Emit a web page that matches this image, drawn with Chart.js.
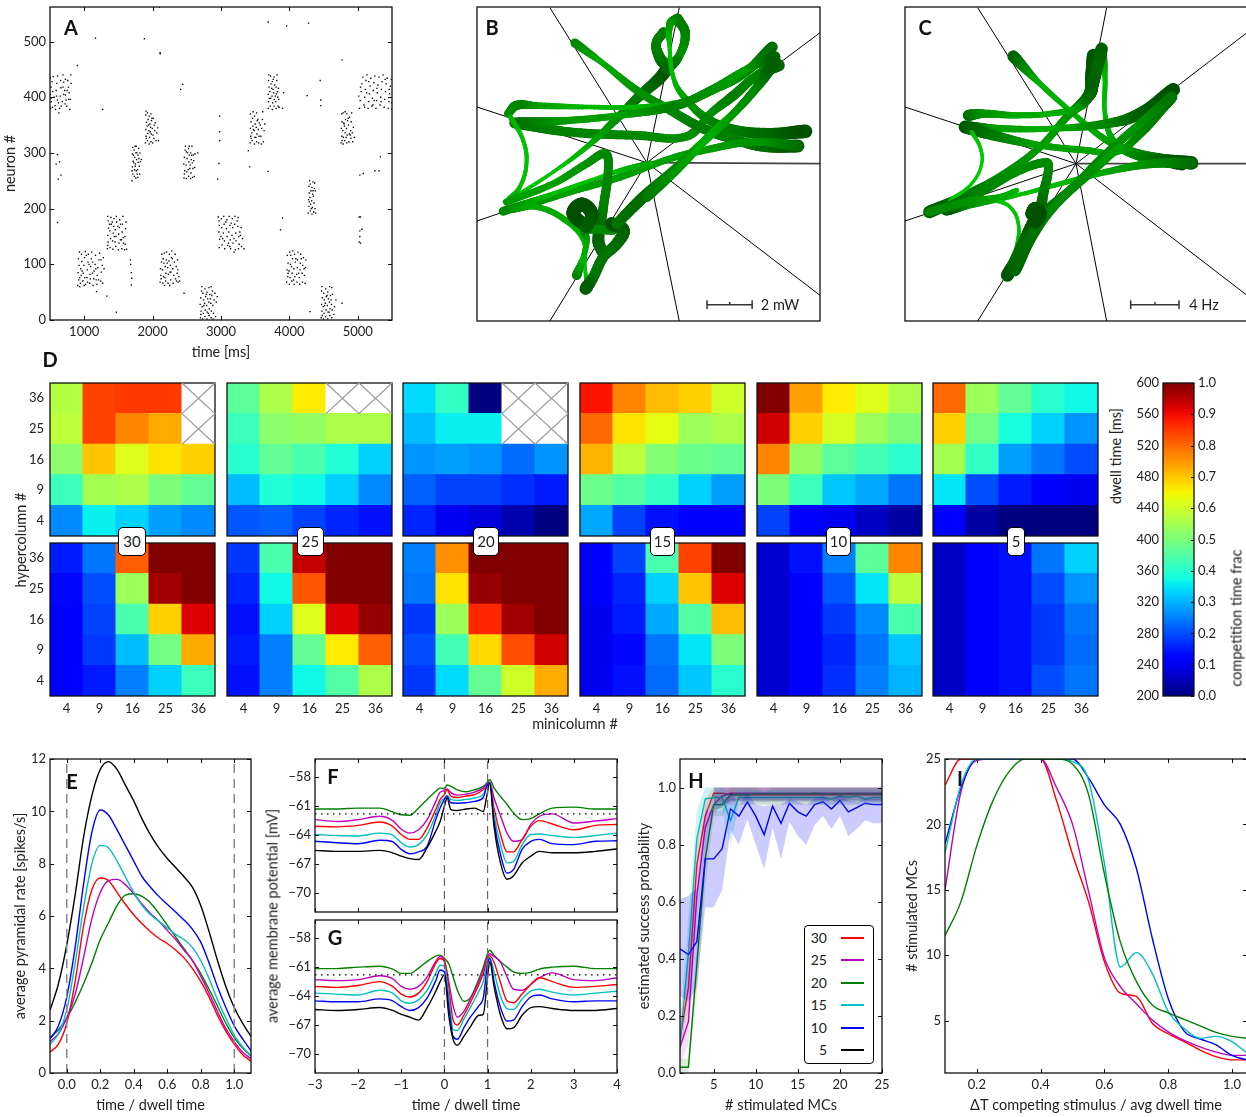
<!DOCTYPE html>
<html>
<head>
<meta charset="utf-8">
<title>Figure</title>
<script src="https://cdn.jsdelivr.net/npm/chart.js@4"></script>
<style>
html, body { margin: 0; padding: 0; background: #fff; width: 1246px; height: 1117px; overflow: hidden; }
#page { position: relative; width: 1246px; height: 1117px; overflow: hidden; font-family: Lato, sans-serif; color: #222; }
canvas { position: absolute; }
.txt { position: absolute; white-space: nowrap; transform: translate(-50%, -50%); font-size: 14.5px; }
.v { transform: translate(-50%, -50%) rotate(-90deg); }
.letter { font: bold 20px Lato, sans-serif; color: #111; }
.tag { position: absolute; background: #fff; border: 1.2px solid #000; border-radius: 5px; box-sizing: border-box; text-align: center; font: 15px/27px Lato, sans-serif; height: 29px; top: 527px; }
.legend { position: absolute; left: 804px; top: 925px; width: 70px; height: 139px; border: 1.2px solid #000; border-radius: 4px; box-sizing: border-box; background: #fff; z-index: 5; }
</style>
</head>
<body>
<div id="page"></div>
<script>
// panel A, spikes as [time ms, neuron]
const burst1 = [[510,380],[520,392],[505,405],[515,418],[530,428],[545,437],[560,400],[575,385],[590,412],[600,425],[610,438],[625,390],[640,380],[650,402],[660,417],[680,392],[690,440],[700,427],[715,412],[725,404],[735,395],[745,384],[760,430],[770,418],[780,408],[790,378],[805,440],[810,425],[580,378],[630,372],[505,435],[700,405],[540,410],[665,384],[750,412],[795,396],[515,398],[610,395],[690,418],[725,432]];
const burst2 = [[905,62],[920,72],[910,85],[925,98],[915,110],[930,122],[945,66],[955,80],[950,92],[965,105],[960,118],[980,70],[985,84],[995,98],[1005,112],[1015,123],[1020,64],[1040,76],[1045,90],[1055,104],[1060,118],[1080,66],[1085,82],[1095,96],[1105,110],[1110,122],[1130,62],[1140,74],[1145,88],[1160,100],[1165,116],[1185,64],[1190,80],[1200,94],[1215,108],[1225,120],[1240,70],[1250,86],[1265,98],[1280,112],[1270,66],[1290,92],[935,60],[1000,62],[1070,100],[1120,84],[1175,72]];
const burst3 = [[1340,128],[1350,140],[1345,152],[1355,165],[1350,178],[1345,186],[1380,130],[1385,146],[1375,160],[1395,172],[1390,184],[1420,127],[1415,142],[1425,156],[1430,168],[1435,182],[1460,132],[1465,150],[1455,162],[1475,176],[1470,186],[1500,126],[1510,138],[1505,154],[1515,166],[1520,180],[1550,128],[1545,144],[1555,158],[1560,172],[1565,186],[1590,126],[1600,136],[1595,150],[1605,164],[1620,127],[1575,138],[1440,150],[1530,144]];
const burst4 = [[1700,250],[1710,262],[1705,275],[1715,285],[1705,298],[1710,310],[1730,258],[1735,270],[1725,282],[1740,292],[1730,305],[1755,255],[1760,268],[1750,280],[1765,288],[1755,300],[1760,312],[1785,256],[1780,270],[1790,283],[1785,296],[1795,308],[1810,262],[1805,276],[1820,284],[1815,300],[1835,288],[1745,312],[1775,262]];
const burst5 = [[1895,318],[1905,330],[1900,342],[1910,355],[1900,368],[1905,375],[1925,322],[1930,335],[1920,348],[1935,360],[1925,372],[1950,316],[1955,328],[1945,340],[1960,352],[1950,366],[1975,320],[1980,334],[1970,346],[1985,358],[1975,370],[2000,318],[2005,332],[1995,344],[2010,362],[2020,326],[2030,340],[2040,354],[2050,322],[2060,336],[2075,345],[2085,322]];
const burst6 = [[2110,68],[2120,80],[2115,92],[2130,104],[2135,118],[2150,66],[2160,78],[2145,90],[2165,102],[2170,120],[2190,70],[2195,84],[2185,96],[2200,108],[2205,122],[2225,66],[2230,82],[2220,94],[2240,106],[2245,118],[2265,72],[2270,86],[2260,98],[2275,112],[2280,124],[2300,66],[2310,80],[2295,92],[2320,104],[2330,118],[2350,70],[2360,84],[2345,96],[2375,68],[2385,78],[2370,90],[2395,70],[2175,62],[2250,62]];
const burst7 = [[2460,255],[2470,268],[2455,280],[2465,292],[2475,305],[2480,312],[2495,254],[2500,266],[2490,278],[2505,290],[2495,302],[2525,258],[2520,270],[2530,284],[2535,296],[2525,308],[2555,254],[2560,264],[2550,278],[2565,288],[2555,300],[2575,312],[2585,256],[2590,272],[2580,282],[2595,296],[2610,258],[2615,274],[2620,298],[2660,300],[2535,312]];
const burst8 = [[2700,4],[2710,16],[2695,28],[2705,40],[2715,52],[2720,60],[2730,2],[2740,12],[2725,24],[2745,36],[2735,48],[2765,6],[2770,18],[2760,30],[2775,42],[2765,56],[2795,2],[2800,14],[2790,26],[2805,38],[2795,50],[2825,8],[2830,20],[2820,32],[2835,46],[2825,58],[2855,4],[2860,16],[2850,30],[2865,44],[2855,60],[2885,2],[2890,12],[2880,26],[2900,36],[2920,6],[2930,32],[2945,42],[2910,48]];
const burst9 = [[2960,185],[2975,170],[2970,158],[2980,145],[2975,130],[3005,182],[3010,166],[3000,150],[3015,135],[3040,186],[3045,172],[3035,156],[3050,142],[3055,128],[3085,180],[3080,164],[3090,150],[3095,134],[3120,186],[3130,170],[3115,158],[3135,144],[3140,128],[3165,182],[3170,166],[3160,152],[3175,138],[3205,186],[3200,172],[3215,156],[3220,142],[3210,126],[3250,184],[3245,168],[3260,150],[3265,136],[3255,128],[3295,166],[3285,152],[3300,132],[3335,128],[3190,122],[3130,132]];
const burst10 = [[3425,318],[3435,330],[3430,344],[3440,356],[3430,370],[3455,322],[3450,336],[3465,348],[3460,362],[3470,374],[3490,316],[3495,328],[3485,340],[3500,352],[3490,366],[3520,320],[3525,334],[3515,346],[3530,358],[3520,372],[3550,318],[3555,330],[3545,342],[3560,354],[3590,316],[3585,330],[3595,344],[3605,360],[3620,320],[3630,340],[3640,352],[3610,374]];
const burst11 = [[3690,380],[3695,392],[3690,405],[3700,418],[3695,430],[3700,440],[3720,384],[3725,398],[3715,410],[3730,424],[3725,438],[3750,378],[3755,390],[3745,402],[3760,414],[3750,428],[3775,384],[3780,396],[3770,408],[3785,422],[3775,436],[3805,380],[3800,392],[3810,406],[3805,418],[3815,430],[3820,440],[3835,384],[3830,400],[3840,416],[3850,382],[3845,396],[3900,380],[3915,408]];
const burst12 = [[3960,68],[3975,78],[3965,90],[3980,102],[3970,116],[4000,64],[4010,76],[3995,88],[4015,100],[4005,122],[4035,70],[4040,84],[4030,96],[4045,110],[4050,124],[4070,64],[4080,78],[4065,92],[4085,104],[4075,118],[4110,68],[4105,82],[4115,94],[4120,108],[4125,122],[4150,64],[4145,76],[4155,90],[4160,102],[4165,118],[4190,68],[4185,84],[4195,98],[4205,112],[4230,66],[4220,80],[4235,94],[4240,108]];
const burst13 = [[4275,192],[4285,204],[4280,216],[4290,228],[4285,240],[4295,250],[4305,196],[4310,208],[4300,220],[4315,232],[4305,244],[4330,190],[4335,202],[4325,214],[4340,226],[4330,238],[4345,248],[4355,194],[4360,210],[4350,222],[4365,236],[4375,200],[4370,246],[4385,192]];
const burst14 = [[4465,4],[4475,16],[4470,28],[4480,40],[4470,52],[4475,60],[4500,2],[4505,12],[4495,24],[4510,36],[4500,48],[4530,6],[4535,18],[4525,30],[4540,42],[4530,56],[4560,2],[4565,14],[4555,26],[4570,38],[4560,50],[4590,8],[4595,20],[4585,32],[4600,44],[4590,60],[4620,4],[4625,18],[4615,28],[4630,46],[4650,10],[4660,24],[4680,36],[4620,58]];
const burst15 = [[4755,318],[4765,330],[4760,344],[4770,356],[4765,370],[4785,316],[4790,328],[4780,340],[4795,354],[4785,372],[4810,322],[4815,336],[4805,348],[4820,360],[4815,374],[4840,318],[4845,332],[4835,344],[4850,358],[4840,370],[4870,320],[4875,334],[4865,350],[4880,364],[4900,326],[4895,340],[4905,356],[4925,320],[4920,336],[4935,346],[4950,328],[4910,372]];
const burst16 = [[5025,380],[5035,394],[5050,410],[5060,424],[5075,436],[5090,386],[5100,400],[5110,414],[5120,430],[5135,440],[5150,380],[5160,392],[5170,406],[5180,420],[5190,434],[5205,384],[5215,398],[5225,412],[5235,426],[5250,438],[5265,380],[5275,394],[5285,408],[5295,422],[5310,436],[5325,386],[5335,400],[5345,414],[5355,428],[5370,440],[5385,382],[5395,396],[5405,410],[5415,424],[5430,434],[5445,380],[5455,392],[5465,406],[5475,420],[5490,432],[5495,390],[5500,378],[5015,402],[5130,408],[5240,394]];
const strays = [[610,297],[640,284],[590,280],[660,260],[620,253],[610,175],[900,457],[1165,506],[1880,505],[2110,478],[2110,480],[1270,378],[2440,423],[2410,414],[3690,535],[3960,528],[4280,533],[2980,366],[2980,338],[2980,322],[2970,281],[2950,253],[3400,304],[3420,275],[3690,267],[4260,403],[4450,430],[4460,395],[4460,385],[4770,467],[5030,260],[5080,263],[5250,268],[5310,268],[5330,293],[3900,183],[3870,162],[4380,232],[1180,51],[1330,43],[1470,14],[2460,48],[4300,15],[4770,30],[1675,108],[1680,100],[1690,85],[1695,75],[1690,63],[5020,185],[5040,185],[5030,160],[5060,163],[5030,150],[5020,140],[5040,138],[2100,562]];
const denser = [[935,76],[970,88],[1010,76],[1050,68],[1090,74],[1125,104],[1170,92],[1210,72],[1245,108],[1030,116],[1345,134],[1370,172],[1410,176],[1450,140],[1490,168],[1530,172],[1570,148],[1610,176],[1700,268],[1720,296],[1745,276],[1770,300],[1800,290],[1910,326],[1940,350],[1965,338],[1990,362],[2025,350],[2125,74],[2155,110],[2180,76],[2215,102],[2255,86],[2290,110],[2335,74],[2365,108],[2465,262],[2510,300],[2545,272],[2570,296],[2600,286],[2705,10],[2750,26],[2785,46],[2815,12],[2845,38],[2875,52],[2970,178],[3025,146],[3070,176],[3110,138],[3150,174],[3190,146],[3235,178],[3275,158],[3315,146],[3440,326],[3475,342],[3510,328],[3540,360],[3575,350],[3705,398],[3740,416],[3765,432],[3795,402],[3825,410],[3980,84],[4020,116],[4060,72],[4095,110],[4135,84],[4175,110],[4215,92],[4290,212],[4320,200],[4345,232],[4480,8],[4515,26],[4550,44],[4580,14],[4610,36],[4770,322],[4800,352],[4830,328],[4860,362],[4890,332],[5040,418],[5100,382],[5160,428],[5220,386],[5280,416],[5340,392],[5400,432],[5460,414],[535,382],[595,402],[655,430],[720,388],[775,396]];
const spikes = [burst1,burst2,burst3,burst4,burst5,burst6,burst7,burst8,burst9,burst10,burst11,burst12,burst13,burst14,burst15,burst16,strays,denser];
const timeTicks = [1000,2000,3000,4000,5000];
const neuronTicks = [0,100,200,300,400,500];

// panels B and C, rays and trajectories as [x, y, weight], read in picture units
const raysB = [[240,22],[627,22],[1048,97],[1048,885],[627,962],[240,962],[22,662],[22,320]];
const rayRightB = [1048,490];
const hubB = [530,487];
const raysC = [[233,22],[620,22],[1041,97],[1041,885],[620,962],[233,962],[15,662],[15,320]];
const rayRightC = [1041,490];
const hubC = [528,490];
const barB = [710,845,778,913];
const barC = [692,837,765,913];

const trajB = [
 [[140,370,.7],[300,395,.6],[500,405,.55],[650,408,.5],[720,340,.45],[790,285,.65],[860,225,.55],[925,195,.85]],
 [[110,605,.1],[250,515,.05],[350,440,.2],[430,365,.45],[500,295,.65],[590,205,.95],[570,175,.75],[558,130,.6],[580,95,.65]],
 [[622,55,.7],[645,100,.6],[625,170,.5],[590,205,.8]],
 [[622,55,.7],[600,70,.45],[598,140,.1],[612,240,.15],[650,300,.35],[710,355,.55],[790,388,.65],[900,400,.8],[1005,393,1]],
 [[315,128,.6],[400,190,.25],[500,270,.45],[600,330,.55],[700,385,.65],[800,420,.6],[880,438,.75],[982,437,.95]],
 [[905,140,.8],[820,220,.55],[740,265,.4],[640,305,.4],[500,320,.2],[350,320,.15],[200,316,.35],[140,315,.6],[115,340,.5]],
 [[135,368,.8],[300,360,.4],[450,345,.35],[620,315,.6],[720,270,.5],[830,205,.35],[912,170,.85]],
 [[122,350,.2],[160,420,.1],[170,490,.1],[150,560,.1],[115,600,.25]],
 [[982,437,.8],[850,425,.45],[700,450,.4],[600,475,.35],[450,530,.4],[300,575,.35],[130,625,.55]],
 [[100,633,.6],[250,580,.15],[390,530,.05],[470,505,.2],[540,490,.3]],
 [[110,605,.4],[250,550,.35],[350,490,.45],[405,460,.55],[415,500,.55],[400,620,.6],[385,720,.85],[400,760,.8]],
 [[130,625,.45],[200,620,.25],[280,655,.3],[340,720,.15],[345,800,.05],[350,850,.1]],
 [[320,825,.65],[340,770,.2],[350,720,.3],[345,690,.55],[430,690,.55]],
 [[350,680,.9],[310,640,1],[335,612,1],[365,640,1],[350,680,.9]],
 [[425,670,1],[460,690,.9],[440,730,.8],[400,770,.7],[370,830,.7],[347,865,.9]],
 [[440,670,.7],[520,590,.8],[620,500,.55],[720,400,.3],[800,320,.05],[880,230,.2],[920,190,.8]],
 [[530,590,.7],[620,510,.45],[700,430,.2],[780,350,.4],[860,260,.55],[912,185,.9]]
];

const trajC = [
 [[340,168,.9],[420,250,.25],[520,340,.2],[620,420,.35],[700,455,.5],[780,475,.7],[875,488,1]],
 [[605,145,.7],[615,230,.2],[615,340,.15],[640,420,.3],[700,462,.5],[845,490,1]],
 [[580,165,.95],[575,230,.95],[570,280,.9],[500,350,.45],[420,440,.4],[300,530,.5],[190,590,.7],[88,635,.9]],
 [[605,145,.9],[590,210,.8],[570,280,.9]],
 [[205,345,.8],[250,340,.5],[350,345,.3],[450,340,.25],[540,320,.35],[570,280,.8]],
 [[195,380,.9],[300,385,.4],[450,385,.25],[620,370,.55],[720,340,.85],[820,268,1]],
 [[195,380,.95],[300,410,.65],[420,435,.35],[560,450,.35],[650,455,.3],[720,400,.55],[790,320,.7],[815,290,.8]],
 [[215,395,.1],[240,440,.05],[245,490,.02],[215,550,.02],[150,600,.05]],
 [[875,488,.8],[760,490,.55],[640,510,.35],[500,545,.2],[350,585,.1],[200,615,.45],[140,627,.9]],
 [[140,627,.9],[250,570,.6],[360,510,.5],[440,487,.55],[445,510,.55],[430,580,.65],[415,650,.85],[380,715,.95]],
 [[280,597,.1],[330,620,.05],[355,670,.05],[350,740,.1],[330,800,.3]],
 [[88,635,.55],[200,605,.5],[300,590,.3],[350,570,.2]],
 [[420,640,1],[400,670,1],[370,730,.85],[340,790,.75],[322,825,.95]],
 [[430,640,.8],[520,560,.55],[620,460,.55],[720,370,.45],[815,290,.7]],
 [[345,810,.85],[400,700,.75],[470,610,.55],[580,510,.5],[660,440,.35]],
 [[395,640,.95],[405,625,.95],[420,640,1],[405,665,1]]
];

// panel D, values are fractions of the colour range, top row first, null = no data
const miniLabels = [4,9,16,25,36];
const hyperLabels = [36,25,16,9,4];
const blockLabels = [30,25,20,15,10,5];
const dwell30 = [[.57,.84,.85,.85,null],[.58,.84,.77,.73,null],[.52,.70,.62,.67,.69],[.42,.55,.56,.50,.47],[.26,.36,.33,.28,.26]];
const dwell25 = [[.46,.56,.66,null,null],[.42,.52,.53,.56,.56],[.40,.47,.44,.39,.33],[.31,.39,.37,.33,.26],[.21,.22,.19,.16,.14]];
const dwell20 = [[.34,.41,0,null,null],[.31,.36,.36,null,null],[.27,.28,.27,.23,.27],[.22,.19,.19,.17,.15],[.16,.10,.08,.04,0]];
const dwell15 = [[.89,.77,.71,.69,.60],[.80,.67,.63,.54,.56],[.72,.58,.51,.48,.47],[.48,.45,.41,.33,.28],[.29,.19,.14,.12,.11]];
const dwell10 = [[1,.74,.66,.62,.56],[.93,.69,.61,.54,.50],[.77,.53,.46,.43,.40],[.50,.42,.32,.29,.24],[.19,.12,.10,.06,.03]];
const dwell5 = [[.80,.54,.47,.40,.37],[.69,.49,.38,.33,.27],[.55,.41,.28,.24,.20],[.35,.20,.15,.12,.10],[.12,.03,0,0,0]];
const comp30 = [[.15,.24,.81,1,1],[.13,.20,.54,.97,1],[.11,.19,.44,.69,.92],[.11,.18,.31,.49,.73],[.11,.15,.25,.33,.42]];
const comp25 = [[.18,.44,.94,1,1],[.16,.37,.82,1,1],[.14,.33,.62,.92,.98],[.15,.25,.47,.66,.81],[.14,.25,.37,.45,.56]];
const comp20 = [[.25,.76,1,1,1],[.24,.67,.98,1,1],[.18,.54,.87,.97,1],[.20,.43,.68,.83,.93],[.18,.34,.47,.60,.73]];
const comp15 = [[.12,.19,.44,.84,1],[.11,.16,.33,.70,.92],[.10,.15,.29,.45,.71],[.10,.13,.24,.35,.50],[.10,.14,.23,.32,.40]];
const comp10 = [[.07,.14,.25,.46,.77],[.07,.11,.21,.35,.58],[.07,.11,.18,.26,.44],[.07,.11,.16,.24,.32],[.07,.12,.17,.25,.30]];
const comp5 = [[.06,.11,.14,.24,.33],[.06,.11,.14,.20,.27],[.06,.11,.14,.18,.24],[.06,.11,.14,.18,.23],[.06,.11,.14,.20,.24]];
const dwellTicks = [200,240,280,320,360,400,440,480,520,560,600];
const fracTicks = [0,.1,.2,.3,.4,.5,.6,.7,.8,.9,1];

// panel E
const timeE = [-.1,-.05,0,.05,.1,.15,.2,.25,.3,.35,.4,.45,.5,.55,.6,.65,.7,.75,.8,.85,.9,.95,1,1.05,1.1];
const rateBlack = [2.4,3.4,4.9,6.8,9.0,10.6,11.6,11.9,11.6,11.0,10.4,9.7,9.1,8.6,8.2,7.85,7.5,7.1,6.4,5.4,4.3,3.3,2.5,1.9,1.4];
const rateBlue = [1.3,1.8,2.9,4.8,7.2,9.2,10.05,9.85,9.3,8.7,8.1,7.5,7.1,6.75,6.45,6.15,5.85,5.5,5.0,4.2,3.3,2.5,1.8,1.3,.85];
const rateCyan = [1.1,1.5,2.4,4.2,6.3,8.0,8.7,8.6,8.1,7.5,6.9,6.4,6.05,5.8,5.55,5.3,5.1,4.8,4.3,3.6,2.8,2.1,1.45,1.0,.65];
const rateRed = [.8,1.1,1.9,3.5,5.6,7.0,7.45,7.35,6.9,6.45,6.05,5.7,5.4,5.15,4.95,4.7,4.4,4.0,3.5,2.9,2.2,1.6,1.1,.7,.45];
const rateMagenta = [1.2,1.5,2.1,3.0,4.4,5.9,6.9,7.35,7.4,7.2,6.85,6.45,6.1,5.8,5.45,5.1,4.7,4.3,3.7,3.05,2.35,1.7,1.2,.8,.55];
const rateGreen = [1.35,1.65,2.1,2.7,3.4,4.2,5.1,5.75,6.4,6.8,6.85,6.75,6.5,6.1,5.65,5.2,4.75,4.3,3.8,3.2,2.55,1.9,1.35,.95,.65];

// panel F
const timeF = [-3,-2.5,-2,-1.5,-1.2,-1,-.8,-.6,-.4,-.2,-.1,0,.06,.15,.3,.5,.7,.9,.98,1.05,1.15,1.3,1.45,1.6,1.8,2,2.2,2.5,3,3.5,4];
const vmFGreen = [-61.3,-61.3,-61.2,-61.2,-61.6,-61.9,-61.95,-61.2,-60.3,-59.45,-59.1,-59.2,-58.8,-58.95,-59.3,-59.5,-59.3,-58.95,-58.6,-58.25,-59.1,-60,-60.8,-61.7,-62.4,-62.3,-61.8,-61.2,-61.1,-61.3,-61.3];
const vmFMagenta = [-62.4,-62.6,-62.4,-62.05,-62.5,-63.4,-63.8,-63.45,-62.4,-60.5,-59.55,-59.4,-59.2,-59.6,-59.85,-59.75,-59.55,-59.1,-58.75,-58.5,-60.15,-62,-63.8,-64.65,-64.5,-62.9,-62.05,-61.8,-62.75,-62.55,-62.3];
const vmFRed = [-63.1,-63.15,-63,-62.65,-63.1,-63.95,-64.45,-64.45,-63.25,-61.35,-60.3,-59.8,-59.3,-59.95,-60.1,-59.95,-59.8,-59.3,-58.95,-58.6,-61.2,-63.95,-65.75,-65.75,-64.45,-63.1,-62.5,-62.85,-63.45,-63,-62.9];
const vmFCyan = [-63.95,-64.05,-64.1,-63.8,-64,-64.8,-65.25,-65,-63.95,-61.9,-60.65,-60.15,-59.85,-60.3,-60.4,-60.3,-60.15,-59.8,-58.95,-58.6,-61.9,-65,-66.9,-66.75,-65,-63.95,-63.9,-64.05,-64.25,-64.05,-63.8];
const vmFBlue = [-64.65,-64.8,-64.9,-64.55,-64.7,-65.5,-65.95,-65.75,-65.15,-62.4,-61.2,-60.3,-60,-60.65,-60.7,-60.65,-60.5,-60.1,-58.95,-58.6,-62.55,-66.05,-67.95,-67.6,-65.5,-64.65,-64.45,-64.9,-65,-64.65,-64.6];
const vmFBlack = [-65.6,-65.7,-65.7,-65.6,-65.85,-66.2,-66.45,-66.55,-65.3,-63.6,-62.6,-61,-60.15,-61.35,-61.45,-61.3,-61.2,-61.55,-60,-58.6,-63.1,-66.9,-68.6,-68.25,-66.9,-66.2,-65.7,-65.85,-65.85,-65.7,-65.45];

// panel G
const timeG = [-3,-2.5,-2,-1.5,-1.2,-1,-.8,-.6,-.4,-.2,-.1,0,.1,.2,.3,.45,.6,.8,.9,1,1.05,1.15,1.3,1.45,1.6,1.8,2,2.2,2.5,3,3.5,4];
const vmGGreen = [-61.15,-61.15,-61,-60.9,-61.2,-61.65,-61.65,-61.1,-60.4,-59.85,-59.75,-60.1,-60.65,-62,-63.4,-64.55,-64.2,-62.2,-61,-59.6,-59.25,-59.75,-60.45,-61,-61.5,-61.65,-61.55,-61.2,-61,-60.9,-61.15,-61.15];
const vmGMagenta = [-62.3,-62.4,-62.3,-61.9,-62.2,-63,-63.3,-63,-62,-60.4,-59.9,-60.3,-62.5,-65,-66.2,-65.6,-64.3,-62.5,-61.3,-59.9,-59.6,-59.9,-60.5,-62,-63.3,-63.4,-62.8,-62.1,-61.6,-62.3,-62.4,-62.1];
const vmGRed = [-63,-63.1,-62.9,-62.5,-63,-63.8,-64.1,-63.7,-62.5,-60.6,-60.1,-60.4,-63,-66.5,-67,-66,-64.7,-62.8,-61.7,-60.2,-59.8,-60.5,-62.6,-64.5,-64.7,-63.8,-62.8,-62.1,-62.5,-63.1,-63,-62.8];
const vmGCyan = [-63.7,-63.8,-63.9,-63.4,-63.7,-64.5,-64.75,-64.4,-63.4,-61.6,-60.8,-60.9,-64,-67.5,-67.6,-66.4,-65.2,-63.5,-62.5,-60.4,-60,-61.5,-64,-65.3,-65.4,-64.3,-63.5,-63.3,-63.6,-63.9,-63.7,-63.5];
const vmGBlue = [-64.5,-64.6,-64.6,-64.3,-64.5,-65.1,-65.5,-65.2,-64.2,-62.4,-61.3,-61.5,-65,-68.2,-68.5,-67.3,-66.2,-65,-64.2,-60.7,-60.1,-62.5,-65.2,-66.6,-66.5,-65.1,-64.1,-63.9,-64.3,-64.6,-64.5,-64.5];
const vmGBlack = [-65.4,-65.5,-65.4,-65.2,-65.5,-65.9,-66.2,-66.5,-65.2,-63.5,-62.5,-61.8,-66,-68.5,-69.1,-68.2,-67.2,-66,-65.9,-62,-60.4,-63,-66,-67.4,-67.3,-66,-65.2,-65.1,-65.3,-65.5,-65.5,-65.3];
const vmTicks = [-58,-61,-64,-67,-70];
const vmThreshold = -61.8;
const dwellMarks = [0,1];

// panel H
const mcCount = [1,2,3,4,5,6,7,8,9,10,11,12,13,14,15,16,17,18,19,20,21,22,23,24,25];
const probRed = [.12,.30,.73,.90,.98,.98,.975,.975,.975,.975,.975,.975,.975,.975,.975,.975,.975,.975,.975,.975,.975,.975,.975,.975,.975];
const probMagenta = [.09,.18,.62,.86,.94,.97,.98,.98,.98,.98,.98,.98,.98,.98,.98,.98,.98,.98,.98,.98,.98,.98,.98,.98,.98];
const probGreen = [.02,.02,.38,.75,.94,.94,.975,.975,.975,.978,.978,.978,.978,.978,.978,.978,.98,.978,.978,.978,.978,.978,.978,.978,.978];
const probCyan = [.10,.42,.82,.96,.965,.965,.885,.965,.965,.965,.965,.965,.965,.965,.965,.965,.965,.965,.96,.97,.965,.97,.96,.965,.965];
const probBlue = [.435,.415,.46,.75,.75,.785,.925,.90,.95,.90,.835,.935,.875,.945,.915,.90,.94,.95,.925,.955,.915,.93,.945,.94,.94];
const probBlack = [];
const upRed = [.20,.40,.80,.96,1,1,1,1,1,1,1,1,1,1,1,1,1,1,1,1,1,1,1,1,1];
const loRed = [.06,.22,.65,.84,.95,.95,.94,.94,.94,.94,.94,.94,.94,.94,.94,.94,.94,.94,.94,.94,.94,.94,.94,.94,.94];
const upMagenta = [.18,.28,.72,.93,.98,1,1,1,1,1,1,1,1,1,1,1,1,1,1,1,1,1,1,1,1];
const loMagenta = [.03,.10,.52,.78,.90,.94,.95,.95,.95,.95,.95,.95,.95,.95,.95,.95,.95,.95,.95,.95,.95,.95,.95,.95,.95];
const upGreen = [.05,.05,.48,.85,.98,.98,1,1,1,1,.98,1,1,1,1,1,1,1,1,1,1,1,1,1,1];
const loGreen = [0,0,.28,.65,.90,.90,.95,.95,.95,.95,.95,.95,.95,.95,.95,.95,.95,.95,.95,.95,.95,.95,.95,.95,.95];
const upCyan = [.18,.55,.92,1,1,1,.97,.99,.99,.99,.99,.99,.99,.99,.99,.99,.99,.99,.99,.99,.99,.99,.99,.99,.99];
const loCyan = [.04,.30,.72,.92,.92,.92,.80,.94,.94,.94,.94,.94,.94,.94,.94,.94,.94,.94,.94,.94,.94,.94,.94,.94,.94];
const upBlue = [.61,.62,.65,.92,.92,.92,.98,.94,.98,.94,.935,.94,.94,.96,.95,.94,.96,.97,.95,.975,.955,.95,.96,.96,.96];
const loBlue = [.27,.25,.30,.58,.58,.64,.85,.80,.89,.80,.715,.86,.75,.88,.83,.80,.87,.90,.855,.90,.83,.855,.885,.875,.875];
const upBlack = [null,null,null,null,1,1,1,1,1,1,1,1,1,1,1,1,1,1,1,1,1,1,1,1,1];
const loBlack = [null,null,null,null,.92,.93,.955,.955,.955,.955,.955,.955,.955,.955,.955,.955,.955,.955,.955,.955,.955,.955,.955,.955,.955];

// panel I
const deltaT = [.1,.15,.2,.25,.3,.35,.4,.45,.5,.55,.6,.65,.7,.75,.8,.85,.9,.95,1,1.05,1.1];
const mcRed = [23,25,25,25,25,25,25,21.8,17.7,14.1,9.5,7.1,6.85,4.8,4,3.4,2.75,2.25,2,2,2];
const mcMagenta = [15,22.5,24.9,25,25,25,25,22.8,20,14.9,9.8,7.6,6.3,5.05,4.15,3.5,3,2.6,2.35,2.35,2.3];
const mcGreen = [11.5,14.1,18.4,21.8,24,25,25,25,24.6,22.3,16.2,11,8,6.2,5.6,5.1,4.6,4.1,3.8,3.65,3.6];
const mcCyan = [17.8,23,25,25,25,25,25,25,24.8,23.4,17,9.1,10.2,8.6,5.7,4.4,3.65,3.8,3.4,2.5,2.1];
const mcBlue = [18.5,22.8,25,25,25,25,25,25,25,23.55,21.5,20,16.65,11.3,6.7,4.2,3.6,3.15,2.35,2,1.9];

const legendLabels = [30,25,20,15,10,5];
const seriesColors = ['#ff0000','#bf00bf','#008000','#00bfbf','#0000ff','#000000'];

const page = document.getElementById('page');
const tickFont = { family: 'Lato', size: 13 };
const titleFont = { family: 'Lato', size: 14.5 };
Chart.defaults.color = '#222';

function jetChannel(t, stops) {
    for (let i = 1; i < stops.length; i++) {
        if (t <= stops[i][0]) {
            let a = stops[i - 1], b = stops[i];
            return a[1] + (b[1] - a[1]) * (t - a[0]) / (b[0] - a[0]);
        }
    }
    return stops[stops.length - 1][1];
}
function jet(t) {
    let r = jetChannel(t, [[0,0],[.35,0],[.66,1],[.89,1],[1,.5]]);
    let g = jetChannel(t, [[0,0],[.125,0],[.375,1],[.64,1],[.91,0],[1,0]]);
    let b = jetChannel(t, [[0,.5],[.11,1],[.34,1],[.65,0],[1,0]]);
    return 'rgb(' + Math.round(r * 255) + ',' + Math.round(g * 255) + ',' + Math.round(b * 255) + ')';
}

// matplotlib style box with ticks pointing inwards on all sides
const framePlugin = {
    id: 'frame',
    afterDatasetsDraw(chart, args, opts) {
        const a = chart.chartArea, c = chart.ctx;
        c.save();
        c.strokeStyle = '#111';
        c.lineWidth = 1;
        c.beginPath();
        if (opts.marks !== false && chart.scales.x) {
            chart.scales.x.ticks.forEach(t => {
                let px = Math.round(chart.scales.x.getPixelForValue(t.value)) + .5;
                c.moveTo(px, a.bottom); c.lineTo(px, a.bottom - 4);
                c.moveTo(px, a.top); c.lineTo(px, a.top + 4);
            });
        }
        if (opts.marks !== false && chart.scales.y) {
            chart.scales.y.ticks.forEach(t => {
                let py = Math.round(chart.scales.y.getPixelForValue(t.value)) + .5;
                c.moveTo(a.left, py); c.lineTo(a.left + 4, py);
                c.moveTo(a.right, py); c.lineTo(a.right - 4, py);
            });
        }
        if (chart.scales.yr) {
            chart.scales.yr.ticks.forEach(t => {
                let py = Math.round(chart.scales.yr.getPixelForValue(t.value)) + .5;
                c.moveTo(a.right, py); c.lineTo(a.right - 3, py);
            });
        }
        c.stroke();
        c.lineWidth = opts.width || 1.3;
        c.strokeRect(a.left, a.top, a.right - a.left, a.bottom - a.top);
        c.restore();
    }
};

// white cells with a cross for the missing heatmap values
const crossPlugin = {
    id: 'cross',
    afterDatasetsDraw(chart, args, opts) {
        if (!opts.grid) return;
        const c = chart.ctx;
        c.save();
        c.strokeStyle = '#999';
        c.lineWidth = 1.2;
        chart.data.datasets.forEach((ds, d) => {
            const row = opts.grid[opts.grid.length - 1 - d];
            chart.getDatasetMeta(d).data.forEach((bar, i) => {
                if (row[i] !== null) return;
                let l = bar.x - bar.width / 2, r = bar.x + bar.width / 2;
                let t = Math.min(bar.y, bar.base), b = Math.max(bar.y, bar.base);
                c.beginPath();
                c.moveTo(l, t); c.lineTo(r, b);
                c.moveTo(r, t); c.lineTo(l, b);
                c.stroke();
            });
        });
        c.restore();
    }
};

// trajectories: walks the line's bezier pieces and lets width and green follow the weight
const ribbonPlugin = {
    id: 'ribbon',
    afterDatasetsDraw(chart) {
        const c = chart.ctx, a = chart.chartArea;
        c.save();
        c.beginPath();
        c.rect(a.left, a.top, a.right - a.left, a.bottom - a.top);
        c.clip();
        c.lineCap = 'round';
        chart.data.datasets.forEach((ds, d) => {
            if (!ds.ribbon) return;
            const meta = chart.getDatasetMeta(d);
            meta.dataset.updateControlPoints(a, 'x');
            const pts = meta.data;
            for (let i = 0; i < pts.length - 1; i++) {
                const p = pts[i], q = pts[i + 1];
                const w0 = ds.data[i].w, w1 = ds.data[i + 1].w;
                let lastX = p.x, lastY = p.y;
                for (let s = 1; s <= 14; s++) {
                    const u = s / 14, v = 1 - u;
                    const x = v*v*v*p.x + 3*v*v*u*p.cp2x + 3*v*u*u*q.cp1x + u*u*u*q.x;
                    const y = v*v*v*p.y + 3*v*v*u*p.cp2y + 3*v*u*u*q.cp1y + u*u*u*q.y;
                    const w = w0 + (w1 - w0) * u;
                    c.strokeStyle = 'rgb(0,' + Math.round(205 - 125 * w) + ',0)';
                    c.lineWidth = 3 + 10.5 * w;
                    c.beginPath();
                    c.moveTo(lastX, lastY);
                    c.lineTo(x, y);
                    c.stroke();
                    lastX = x; lastY = y;
                }
            }
        });
        c.restore();
    }
};

function ticksAt(list) {
    return s => { s.ticks = list.map(v => ({ value: v })); };
}
function axis(min, max, tickList, fmt, title, extra) {
    let o = {
        type: 'linear', min: min, max: max,
        grid: { display: false, drawTicks: false },
        border: { display: false },
        afterBuildTicks: ticksAt(tickList),
        ticks: { font: tickFont, color: '#222', padding: 4, autoSkip: false, maxRotation: 0, callback: fmt },
        title: { display: !!title, text: title, font: titleFont, color: '#222', padding: 0 }
    };
    return Object.assign(o, extra || {});
}
const minusFmt = v => String(v).replace('-', '\u2212');
function noPad(s) {
    s.paddingTop = 0; s.paddingBottom = 0; s.paddingLeft = 0; s.paddingRight = 0;
}

// box = plot area in page pixels, m = margins around it for labels
function panel(box, m, cfg) {
    const cv = document.createElement('canvas');
    let w = box[2] - box[0] + m.l + m.r, h = box[3] - box[1] + m.t + m.b;
    cv.width = w; cv.height = h;
    cv.style.left = (box[0] - m.l) + 'px';
    cv.style.top = (box[1] - m.t) + 'px';
    cv.style.width = w + 'px';
    cv.style.height = h + 'px';
    if (m.z) cv.style.zIndex = m.z;
    page.appendChild(cv);
    cfg.options = cfg.options || {};
    cfg.options.responsive = false;
    cfg.options.animation = false;
    cfg.options.devicePixelRatio = 1;
    cfg.options.layout = { autoPadding: false, padding: { top: m.t, right: m.rp === undefined ? m.r : m.rp, left: 0, bottom: 0 } };
    cfg.options.plugins = Object.assign({ legend: { display: false }, tooltip: { enabled: false } }, cfg.options.plugins || {});
    const sc = cfg.options.scales;
    sc.x.afterFit = s => { s.height = m.b; noPad(s); };
    sc.y.afterFit = s => { s.width = m.l; noPad(s); };
    cfg.plugins = [framePlugin].concat(cfg.plugins || []);
    return new Chart(cv, cfg);
}
function text(str, x, y, cls, size) {
    const d = document.createElement('div');
    d.className = 'txt ' + (cls || '');
    d.textContent = str;
    d.style.left = x + 'px';
    d.style.top = y + 'px';
    if (size) d.style.fontSize = size + 'px';
    d.style.zIndex = 6;
    page.appendChild(d);
    return d;
}
function lineSet(xs, ys, color, mono) {
    return {
        data: xs.map((x, i) => ({ x: x, y: ys[i] })),
        borderColor: color, borderWidth: 1.4, pointRadius: 0, fill: false, showLine: true,
        cubicInterpolationMode: mono ? 'monotone' : 'default', tension: 0
    };
}
function guide(xs, ys, color, dash, width) {
    return { data: xs.map((x, i) => ({ x: x, y: ys[i] })), borderColor: color, borderDash: dash || [], borderWidth: width || 1.3, pointRadius: 0, fill: false, tension: 0, showLine: true };
}

// A
panel([50, 7, 392, 320], { l: 48, r: 10, t: 6, b: 41 }, {
    type: 'scatter',
    data: { datasets: spikes.map(b => ({ data: b.map(p => ({ x: p[0], y: p[1] })), pointRadius: .95, pointStyle: 'rect', backgroundColor: '#000', borderWidth: 0 })) },
    options: { scales: {
        x: axis(500, 5500, timeTicks, v => v, 'time [ms]'),
        y: axis(0, 562, neuronTicks, v => v, 'neuron #')
    } }
});

// B, C
function trajPanel(box, xr, yr, hub, rays, rayRight, bar, strokes) {
    const ds = [];
    rays.forEach(r => ds.push(guide([hub[0], r[0]], [hub[1], r[1]], '#000', [], 1)));
    ds.push(guide([hub[0], rayRight[0]], [hub[1], rayRight[1]], '#444', [], 1.6));
    const barColor = '#333';
    ds.push(guide([bar[0], bar[1]], [bar[3], bar[3]], barColor, [], 1.5));
    ds.push(guide([bar[0], bar[0]], [bar[3] - 13, bar[3] + 13], barColor, [], 1.5));
    ds.push(guide([bar[1], bar[1]], [bar[3] - 13, bar[3] + 13], barColor, [], 1.5));
    ds.push(guide([bar[2], bar[2]], [bar[3] - 8, bar[3]], barColor, [], 1.5));
    strokes.forEach(s => {
        ds.push({
            data: s.map(p => ({ x: p[0], y: p[1], w: p[2] })),
            ribbon: true, showLine: true,
            pointRadius: 0, tension: .4, fill: false, borderWidth: 0
        });
    });
    panel(box, { l: 2, r: 2, t: 2, b: 2 }, {
        type: 'scatter',
        data: { datasets: ds },
        options: { plugins: { frame: { marks: false } }, scales: {
            x: { type: 'linear', min: xr[0], max: xr[1], display: false },
            y: { type: 'linear', min: yr[0], max: yr[1], reverse: true, display: false }
        } },
        plugins: [ribbonPlugin]
    });
}
trajPanel([477, 7, 820, 321], [22, 1048], [20, 962], hubB, raysB, rayRightB, barB, trajB);
trajPanel([905, 7, 1247, 321], [15, 1041], [20, 962], hubC, raysC, rayRightC, barC, trajC);

// D
const colLeft = [50, 227, 403, 580, 757, 933];
const dwellGrids = [dwell30, dwell25, dwell20, dwell15, dwell10, dwell5];
const compGrids = [comp30, comp25, comp20, comp15, comp10, comp5];
function heat(left, top, grid, showX, showY) {
    const ds = grid.slice().reverse().map(row => ({
        data: row.map(() => 1),
        backgroundColor: row.map(v => v === null ? '#fff' : jet(v)),
        borderWidth: 0,
        inflateAmount: .5,
        barPercentage: 1, categoryPercentage: 1
    }));
    panel([left, top, left + 165, top + 153], { l: showY ? 30 : 1, r: 2, t: 2, b: showX ? 26 : 2 }, {
        type: 'bar',
        data: { labels: miniLabels, datasets: ds },
        options: {
            plugins: { frame: { marks: false }, cross: { grid: grid } },
            scales: {
                x: { stacked: true, grid: { display: false, drawTicks: false }, border: { display: false },
                     ticks: { display: showX, font: tickFont, color: '#222', padding: 5, maxRotation: 0 } },
                y: { stacked: true, type: 'linear', min: 0, max: 5, grid: { display: false, drawTicks: false }, border: { display: false },
                     afterBuildTicks: ticksAt([.5, 1.5, 2.5, 3.5, 4.5]),
                     ticks: { display: showY, font: tickFont, color: '#222', padding: 6, autoSkip: false, callback: v => hyperLabels[4 - Math.floor(v)] } }
            }
        },
        plugins: [crossPlugin]
    });
}
colLeft.forEach((x, i) => {
    heat(x, 383, dwellGrids[i], false, i === 0);
    heat(x, 543, compGrids[i], true, i === 0);
});
const tagBoxes = [[118, 28], [297, 27], [473, 26], [650, 25], [826, 25], [1007, 18]];
blockLabels.forEach((v, i) => {
    const d = document.createElement('div');
    d.className = 'tag';
    d.textContent = v;
    d.style.left = tagBoxes[i][0] + 'px';
    d.style.width = tagBoxes[i][1] + 'px';
    d.style.zIndex = 6;
    page.appendChild(d);
});

// colour bar
panel([1163, 383, 1194, 696], { l: 34, r: 34, rp: 0, t: 8, b: 8 }, {
    type: 'bar',
    data: { labels: [''], datasets: [{
        data: [[200, 600]],
        barPercentage: 1, categoryPercentage: 1, borderWidth: 0,
        backgroundColor: ctx => {
            const a = ctx.chart.chartArea;
            if (!a) return '#000';
            const g = ctx.chart.ctx.createLinearGradient(0, a.bottom, 0, a.top);
            for (let i = 0; i <= 40; i++) g.addColorStop(i / 40, jet(i / 40));
            return g;
        }
    }] },
    options: {
        plugins: { frame: { marks: false } },
        scales: {
            x: { display: false },
            y: axis(200, 600, dwellTicks, v => v, '', { position: 'left' }),
            yr: axis(0, 1, fracTicks, v => v.toFixed(1), '', { position: 'right', afterFit: s => { s.width = 34; noPad(s); } })
        }
    }
});

// E
const seriesE = [[rateBlack,'#000000'],[rateBlue,'#0000ff'],[rateCyan,'#00bfbf'],[rateMagenta,'#bf00bf'],[rateRed,'#ff0000'],[rateGreen,'#008000']];
panel([50, 759, 251, 1073], { l: 38, r: 8, t: 8, b: 41 }, {
    type: 'scatter',
    data: { datasets: dwellMarks.map(x => guide([x, x], [0, 12], '#888', [9, 6], 1.5))
        .concat(seriesE.map(s => lineSet(timeE, s[0], s[1], true))) },
    options: { scales: {
        x: axis(-.1, 1.1, [0, .2, .4, .6, .8, 1], v => v.toFixed(1), 'time / dwell time'),
        y: axis(0, 12, [0, 2, 4, 6, 8, 10, 12], v => v, 'average pyramidal rate [spikes/s]')
    } }
});

// F, G
function vmPanel(top, bottom, times, series, showX) {
    const marks = dwellMarks.map(x => guide([x, x], [-72, -56], '#666', [8, 5], 1.2));
    const dots = guide([-3, 4], [vmThreshold, vmThreshold], '#000', [1.5, 4.5], 1.3);
    panel([315, top, 617, bottom], { l: 46, r: 14, t: 4, b: showX ? 41 : 4 }, {
        type: 'scatter',
        data: { datasets: marks.concat([dots]).concat(series.map(s => lineSet(times, s[0], s[1], true))) },
        options: { scales: {
            x: axis(-3, 4, [-3,-2,-1,0,1,2,3,4], minusFmt, showX ? 'time / dwell time' : '', { ticks: { display: showX, font: tickFont, color: '#222', padding: 4, autoSkip: false, maxRotation: 0, callback: minusFmt } }),
            y: axis(-72, -56.1, vmTicks, minusFmt)
        } }
    });
}
vmPanel(759, 912, timeF, [[vmFBlack,'#000000'],[vmFBlue,'#0000ff'],[vmFCyan,'#00bfbf'],[vmFRed,'#ff0000'],[vmFMagenta,'#bf00bf'],[vmFGreen,'#008000']], false);
vmPanel(920, 1073, timeG, [[vmGBlack,'#000000'],[vmGBlue,'#0000ff'],[vmGCyan,'#00bfbf'],[vmGRed,'#ff0000'],[vmGMagenta,'#bf00bf'],[vmGGreen,'#008000']], true);

// H
function band(up, lo, color) {
    return [
        { data: mcCount.map((x, i) => ({ x: x, y: up[i] })), showLine: true, borderWidth: 0, pointRadius: 0, tension: 0, fill: '+1', backgroundColor: color },
        { data: mcCount.map((x, i) => ({ x: x, y: lo[i] })), showLine: true, borderWidth: 0, pointRadius: 0, tension: 0, fill: false }
    ];
}
const bandsH = [].concat(
    band(upBlack, loBlack, 'rgba(30,30,150,.32)'),
    band(upBlue, loBlue, 'rgba(0,0,255,.2)'),
    band(upCyan, loCyan, 'rgba(0,191,191,.2)'),
    band(upGreen, loGreen, 'rgba(0,128,0,.15)'),
    band(upMagenta, loMagenta, 'rgba(191,0,191,.12)'),
    band(upRed, loRed, 'rgba(255,0,0,.12)')
);
const linesH = [[probBlue,'#0000ff'],[probCyan,'#00bfbf'],[probGreen,'#008000'],[probMagenta,'#bf00bf'],[probRed,'#ff0000'],[probBlack,'#000000']]
    .map(s => lineSet(mcCount.slice(0, s[0].length), s[0], s[1], false));
panel([680, 759, 882, 1073], { l: 44, r: 8, t: 6, b: 41 }, {
    type: 'scatter',
    data: { datasets: bandsH.concat(linesH) },
    options: { scales: {
        x: axis(1, 25, [5, 10, 15, 20, 25], v => v, '# stimulated MCs'),
        y: axis(0, 1.1, [0, .2, .4, .6, .8, 1], v => v.toFixed(1), 'estimated success probability')
    } }
});
const legendBox = document.createElement('div');
legendBox.className = 'legend';
page.appendChild(legendBox);
legendLabels.forEach((lab, i) => {
    const y = Math.round(11 + i * 22.4);
    const t = document.createElement('div');
    t.textContent = lab;
    t.style.cssText = 'position:absolute;right:46px;top:' + (y - 8) + 'px;font:14px/18px Lato,sans-serif;';
    legendBox.appendChild(t);
    const l = document.createElement('div');
    l.style.cssText = 'position:absolute;left:36px;width:23px;height:2px;top:' + y + 'px;background:' + seriesColors[i];
    legendBox.appendChild(l);
});

// I
const seriesI = [[mcGreen,'#008000'],[mcCyan,'#00bfbf'],[mcBlue,'#0000ff'],[mcMagenta,'#bf00bf'],[mcRed,'#ff0000']];
panel([945, 759, 1247, 1073], { l: 41, r: 8, t: 6, b: 41 }, {
    type: 'scatter',
    data: { datasets: seriesI.map(s => lineSet(deltaT, s[0], s[1], true)) },
    options: { scales: {
        x: axis(.1, 1.047, [.2, .4, .6, .8, 1], v => v.toFixed(1), '\u0394T competing stimulus / avg dwell time'),
        y: axis(1, 25, [5, 10, 15, 20, 25], v => v, '# stimulated MCs')
    } }
});

// text that does not belong to one axis
text('hypercolumn #', 20, 540, 'v');
text('minicolumn #', 575, 723);
text('dwell time [ms]', 1115, 456, 'v');
text('competition time frac', 1236, 618, 'v');
text('average membrane potential [mV]', 272, 916, 'v');
text('2 mW', 780, 304);
text('4 Hz', 1204, 304);
[['A',71,27],['B',492,27],['C',925,27],['D',50,359],['E',72,781],['F',333,776],['G',335,937],['H',696,780],['I',960,778]]
    .forEach(l => text(l[0], l[1], l[2], 'letter'));
</script>
</body>
</html>
